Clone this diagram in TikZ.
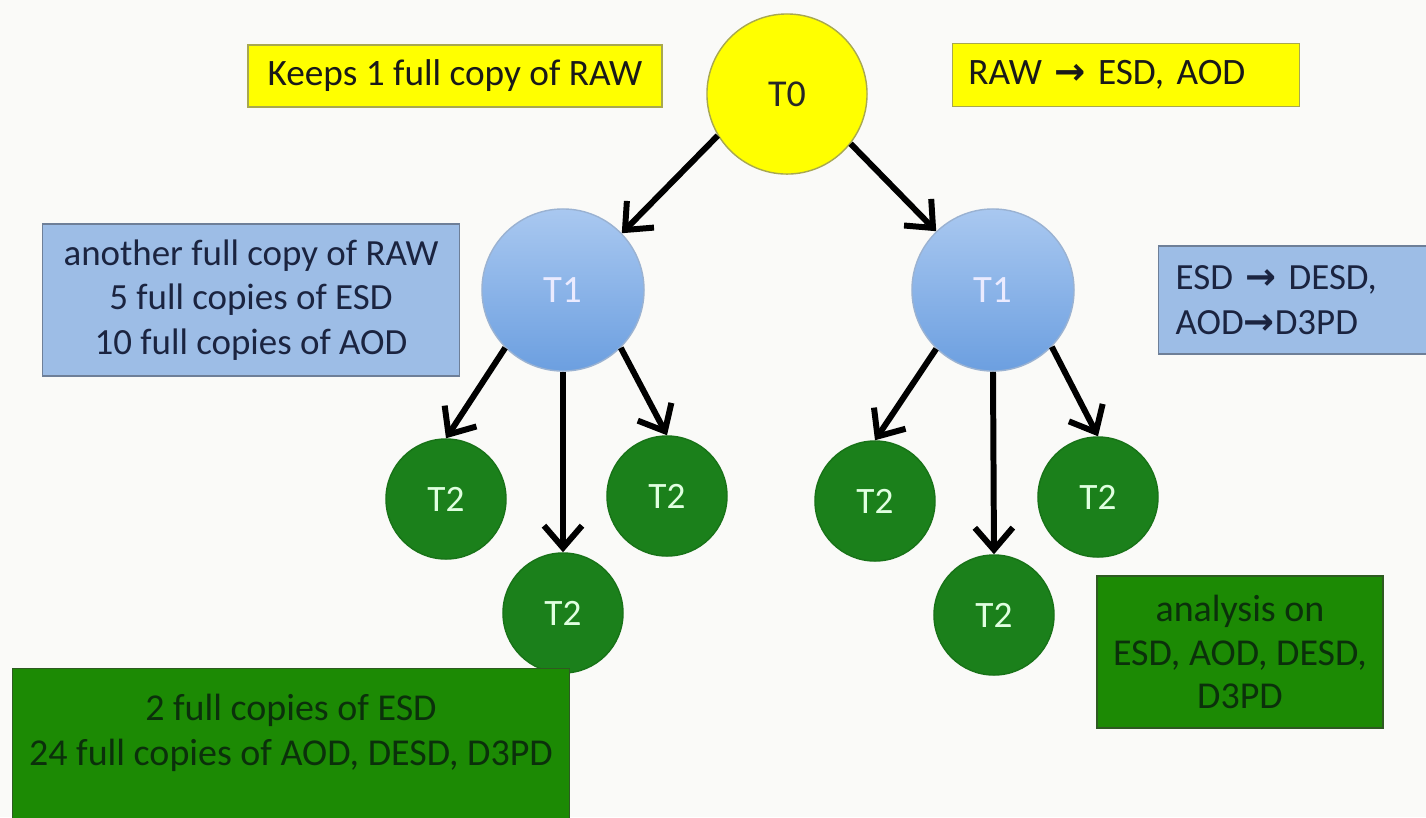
\documentclass[tikz,border=0pt]{standalone}
\usepackage{fontspec}
\setmainfont{Carlito}
\newfontfamily\symfont{DejaVu Sans}
\usepackage{xcolor}
\usetikzlibrary{arrows.meta, positioning, calc}

\definecolor{bgwhite}{HTML}{FAFAF8}
\definecolor{tzerofill}{HTML}{FFFF00}
\definecolor{tzeroline}{HTML}{A8A850}
\definecolor{tonetop}{HTML}{A9C8F0}
\definecolor{onebottom}{HTML}{6C9FE0}
\definecolor{bluenote}{HTML}{9DBDE6}
\definecolor{blueline}{HTML}{6E7F98}
\definecolor{bluetext}{HTML}{1B2440}
\definecolor{ttwofill}{HTML}{1B801B}
\definecolor{greennote}{HTML}{1C8A04}
\definecolor{greenline}{HTML}{2E5A22}
\definecolor{greentext}{HTML}{0B300B}

\newcommand{\toarrow}{{\symfont\bfseries\char"2192}}

\begin{document}
\begin{tikzpicture}[
    x=0.01cm, y=-0.01cm,
    >=stealth,
    tzero/.style={circle, draw=tzeroline, fill=tzerofill, minimum size=1.6cm,
        font=\fontsize{10.8}{12}\selectfont, text=black!85},
    tone/.style={circle, draw=onebottom!80!black!60, top color=tonetop, bottom color=onebottom,
        minimum size=1.62cm, font=\fontsize{11}{12}\selectfont, text=white!92!blue},
    ttwo/.style={circle, draw=ttwofill!90!black, fill=ttwofill, minimum size=1.2cm,
        font=\fontsize{10.6}{12}\selectfont, text=white!88!green},
    yellowbox/.style={rectangle, draw=tzeroline, fill=tzerofill, inner sep=0pt,
        font=\fontsize{10.6}{12.6}\selectfont, text=black!90},
    bluebox/.style={rectangle, draw=blueline, fill=bluenote, inner sep=0pt,
        font=\fontsize{10.5}{12.6}\selectfont, text=bluetext},
    greenbox/.style={rectangle, draw=greenline, fill=greennote, inner sep=0pt,
        font=\fontsize{10.8}{12.4}\selectfont, text=greentext},
    link/.style={-{Straight Barb[length=2.2mm, width=3.8mm]}, line width=1.7pt, black}
]
    % --- background ---
    \useasboundingbox (0,0) rectangle (1426,817);
    \clip (0,0) rectangle (1426,817);
    \fill[bgwhite] (0,0) rectangle (1426,817);

    % --- tiers ---
    \node (tier0) [tzero] at (787,94) {T0};
    \node (tier1l) [tone] at (563,290) {T1};
    \node (tier1r) [tone] at (993,290) {T1};
    \node (tier2la) [ttwo] at (446,499) {T2};
    \node (tier2lb) [ttwo] at (563,613) {T2};
    \node (tier2lc) [ttwo] at (667,496) {T2};
    \node (tier2ra) [ttwo] at (875,501) {T2};
    \node (tier2rb) [ttwo] at (994,615) {T2};
    \node (tier2rc) [ttwo] at (1098,497) {T2};

    % --- notes ---
    \node (rawcopy) [yellowbox, minimum width=4.14cm, minimum height=0.62cm] at (455,76)
        {Keeps 1 full copy of RAW};
    \node (rawconv) [yellowbox, minimum width=3.47cm, minimum height=0.63cm,
        text width=3.15cm, align=left, inner xsep=0.16cm] at (1126,75)
        {\mbox{RAW \toarrow{} ESD, AOD}};
    \node (onecopies) [bluebox, minimum width=4.17cm, minimum height=1.52cm, align=center]
        at (251,300) {another full copy of RAW\\5 full copies of ESD\\10 full copies of AOD};
    \node (oneconv) [bluebox, anchor=west, minimum height=1.08cm, text width=2.9cm,
        align=left, inner xsep=0.17cm] at (1158,300)
        {ESD \toarrow{} DESD,\\AOD\toarrow{}D3PD};
    \node (twocopies) [greenbox, anchor=north, minimum width=5.57cm, minimum height=1.7cm,
        label={[anchor=north, yshift=-0.14cm, align=center, text=greentext,
        font=\fontsize{10.8}{12.8}\selectfont]north:2 full copies of ESD\\24 full copies of AOD, DESD, D3PD}]
        at (291,668) {};
    \node (twoanalysis) [greenbox, minimum width=2.86cm, minimum height=1.52cm, align=center]
        at (1240,652) {analysis on\\ESD, AOD, DESD,\\D3PD};

    % --- connectors ---
    \draw[link] (tier0.211) -- (tier1l.44);
    \draw[link] (tier0.322) -- (tier1r.134);
    \draw[link] (tier1l.225) -- (tier2la.north);
    \draw[link] (tier1l.south) -- (tier2lb.north);
    \draw[link] (tier1l.315) -- (tier2lc.north);
    \draw[link] (tier1r.226) -- (tier2ra.north);
    \draw[link] (tier1r.south) -- (tier2rb.north);
    \draw[link] (tier1r.316) -- (tier2rc.north);
\end{tikzpicture}
\end{document}
